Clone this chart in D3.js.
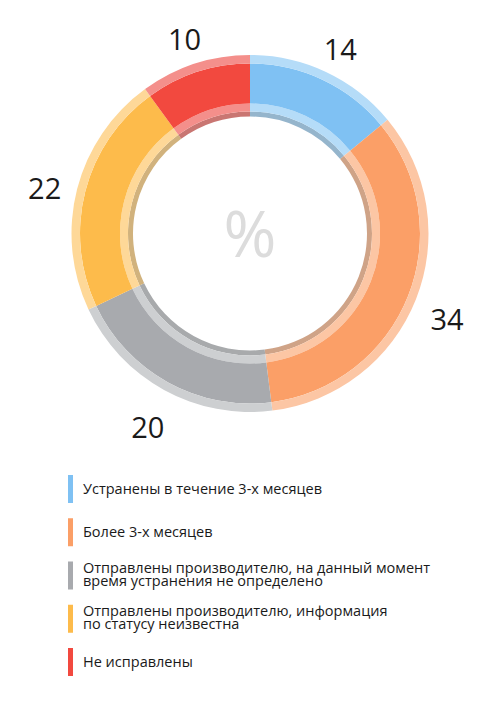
<!DOCTYPE html>
<html>
<head>
<meta charset="utf-8">
<script src="https://cdn.jsdelivr.net/npm/d3@7"></script>
<style>
  body { margin: 0; background: #fff; }
  svg { display: block; font-family: 'Open Sans', sans-serif; }
</style>
</head>
<body>
<svg id="chart" width="500" height="702"></svg>
<script>
// Share of issues by status, percent
const categories = [
  'Устранены в течение 3-х месяцев',
  'Более 3-х месяцев',
  'Отправлены производителю, на данный момент\nвремя устранения не определено',
  'Отправлены производителю, информация\nпо статусу неизвестна',
  'Не исправлены'
];
const values = [14, 34, 20, 22, 10];
const colors = ['#7fc1f3', '#fb9f67', '#a8aaae', '#fdbb4b', '#f2493f'];
const lightColors = ['#b5dcf8', '#fcc6a4', '#cdcfd1', '#fed898', '#f48f8b'];

const svg = d3.select('#chart');
const cx = 250, cy = 233.5;

const pie = d3.pie().sort(null).value(d => d);
const arcs = pie(values);

const g = svg.append('g').attr('transform', `translate(${cx},${cy})`);

// Ring layers: shadow, inner light band, main band, outer light band
const layers = [
  { inner: 117, outer: 122, fill: i => d3.color(lightColors[i]).darker(0.55) },
  { inner: 122, outer: 130, fill: i => lightColors[i] },
  { inner: 130, outer: 170, fill: i => colors[i] },
  { inner: 170, outer: 178.5, fill: i => lightColors[i] }
];

for (const layer of layers) {
  const arc = d3.arc().innerRadius(layer.inner).outerRadius(layer.outer);
  g.append('g')
    .selectAll('path')
    .data(arcs)
    .join('path')
    .attr('fill', (d, i) => layer.fill(i))
    .attr('d', arc);
}

// Value labels outside the ring
const labelArc = d3.arc().innerRadius(212).outerRadius(212);
g.append('g')
  .attr('text-anchor', 'middle')
  .attr('font-size', 29)
  .attr('fill', '#1a1a1a')
  .selectAll('text')
  .data(arcs)
  .join('text')
  .attr('transform', d => {
    const [x, y] = labelArc.centroid(d);
    return `translate(${x},${y + 8})`;
  })
  .attr('dy', '0.36em')
  .text(d => d.data);

// Center sign
g.append('text')
  .attr('text-anchor', 'middle')
  .attr('dy', '0.36em')
  .attr('font-size', 64)
  .attr('fill', '#dcdcdc')
  .text('%');

// Legend
const y = d3.scaleLinear().domain([0, categories.length - 1]).range([475, 648]);
const item = svg.append('g')
  .selectAll('g')
  .data(categories)
  .join('g')
  .attr('transform', (d, i) => `translate(68,${y(i)})`);

item.append('rect')
  .attr('width', 5)
  .attr('height', 28)
  .attr('fill', (d, i) => colors[i]);

item.append('text')
  .attr('font-size', 14.5)
  .attr('fill', '#1a1a1a')
  .each(function (d) {
    const lines = d.split('\n');
    const t = d3.select(this);
    const start = lines.length > 1 ? 11.5 : 19;
    lines.forEach((line, k) => {
      t.append('tspan')
        .attr('x', 15)
        .attr('y', start + k * 13)
        .text(line);
    });
  });
</script>
</body>
</html>
